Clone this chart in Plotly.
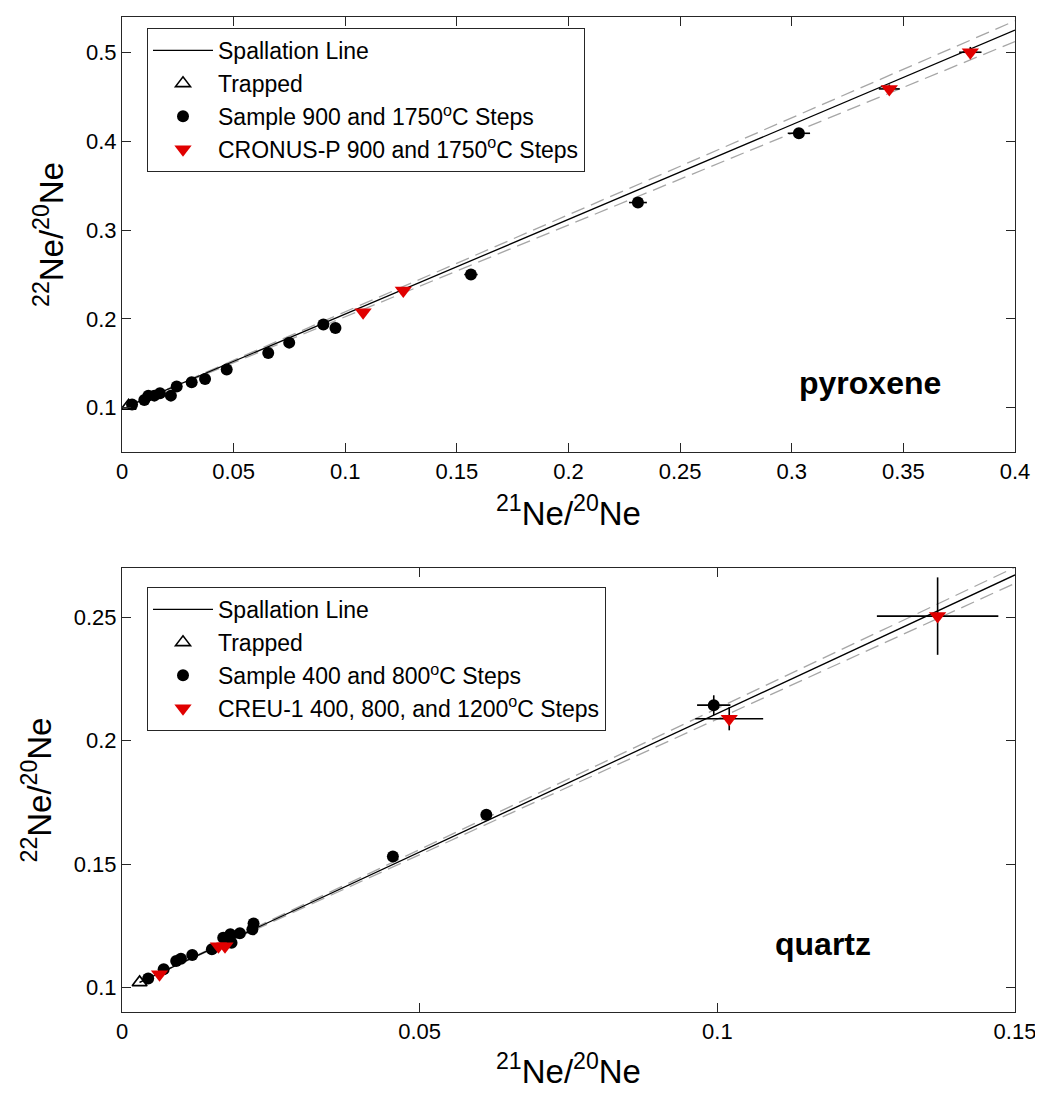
import plotly.graph_objects as go

# ---------------- data: pyroxene (top) ----------------
pyx_trapped_x = [0.00296]
pyx_trapped_y = [0.102]

pyx_sample_x = [0.0045, 0.0100, 0.0118, 0.0145, 0.0170, 0.0219, 0.0245, 0.0312, 0.0372, 0.0469,
                0.0655, 0.0749, 0.0902, 0.0956, 0.1563, 0.2311, 0.3032]
pyx_sample_y = [0.1034, 0.1087, 0.1135, 0.1135, 0.1161, 0.1135, 0.1237, 0.1285, 0.1323, 0.1430,
                0.1616, 0.1732, 0.1935, 0.1898, 0.2499, 0.3310, 0.4090]
pyx_sample_xerr = [0, 0, 0, 0, 0, 0, 0, 0, 0, 0, 0.001, 0.001, 0.001, 0.001, 0.003, 0.004, 0.005]
pyx_sample_yerr = [0] * 17

pyx_std_x = [0.1080, 0.1260, 0.3437, 0.3800]
pyx_std_y = [0.2074, 0.2318, 0.4590, 0.5003]
pyx_std_xerr = [0.001, 0.001, 0.0047, 0.0050]
pyx_std_yerr = [0, 0, 0.005, 0.006]

pyx_line_x = [0.00296, 0.40]
pyx_line_y = [0.102, 0.5252]
pyx_upper_y = [0.102, 0.5357]
pyx_lower_y = [0.102, 0.5124]

# ---------------- data: quartz (bottom) ----------------
qtz_trapped_x = [0.00296]
qtz_trapped_y = [0.102]

qtz_sample_x = [0.0044, 0.0070, 0.0091, 0.0099, 0.0118, 0.0151, 0.0170, 0.0182, 0.0184, 0.0198,
                0.0219, 0.0221, 0.0455, 0.0612, 0.0994]
qtz_sample_y = [0.1036, 0.1073, 0.1107, 0.1116, 0.1131, 0.1154, 0.1201, 0.1215, 0.1181, 0.1219,
                0.1235, 0.1259, 0.1530, 0.1700, 0.2144]
qtz_sample_xerr = [0, 0, 0, 0, 0, 0, 0, 0, 0, 0, 0, 0, 0, 0, 0.0028]
qtz_sample_yerr = [0, 0, 0, 0, 0, 0, 0, 0, 0, 0, 0, 0, 0, 0, 0.004]

qtz_std_x = [0.0063, 0.0162, 0.0173, 0.1020, 0.1370]
qtz_std_y = [0.1053, 0.1167, 0.1167, 0.2089, 0.2505]
qtz_std_xerr = [0, 0, 0, 0.0057, 0.0102]
qtz_std_yerr = [0, 0, 0, 0.0047, 0.0157]

qtz_line_x = [0.00296, 0.15]
qtz_line_y = [0.102, 0.2672]
qtz_upper_y = [0.102, 0.2703]
qtz_lower_y = [0.102, 0.2638]

FONT = "Liberation Sans, Arial, sans-serif"
AX = "#262626"
OFF = 8                 # page body margin
W, H = 1043 - OFF, 1099 - 2 * OFF

fig = go.Figure()


def add_panel(xa, ya, leg, lx, ly, uy, lowy, tx, ty, sx, sy, sxe, sye, stx, sty, stxe, stye,
              sample_name, std_name):
    fig.add_trace(go.Scatter(x=lx, y=uy, mode="lines", xaxis=xa, yaxis=ya, showlegend=False,
                             line=dict(color="#a6a6a6", width=1.3, dash="14px,7px"), hoverinfo="skip"))
    fig.add_trace(go.Scatter(x=lx, y=lowy, mode="lines", xaxis=xa, yaxis=ya, showlegend=False,
                             line=dict(color="#a6a6a6", width=1.3, dash="14px,7px"), hoverinfo="skip"))
    fig.add_trace(go.Scatter(x=lx, y=ly, mode="lines", xaxis=xa, yaxis=ya, legend=leg,
                             name="Spallation Line", line=dict(color="black", width=1.3)))
    fig.add_trace(go.Scatter(x=tx, y=ty, mode="markers", xaxis=xa, yaxis=ya, legend=leg,
                             name="Trapped",
                             marker=dict(symbol="triangle-up-open", size=13, color="black",
                                         line=dict(width=1.6, color="black"))))
    fig.add_trace(go.Scatter(x=sx, y=sy, mode="markers", xaxis=xa, yaxis=ya, legend=leg,
                             name=sample_name,
                             error_x=dict(type="data", array=sxe, color="black", thickness=1.6, width=0),
                             error_y=dict(type="data", array=sye, color="black", thickness=1.6, width=0),
                             marker=dict(symbol="circle", size=12, color="black")))
    fig.add_trace(go.Scatter(x=stx, y=sty, mode="markers", xaxis=xa, yaxis=ya, legend=leg,
                             name=std_name,
                             error_x=dict(type="data", array=stxe, color="black", thickness=1.6, width=0),
                             error_y=dict(type="data", array=stye, color="black", thickness=1.6, width=0),
                             marker=dict(symbol="triangle-down", size=15, color="#e00000",
                                         line=dict(width=0))))


add_panel("x", "y", "legend", pyx_line_x, pyx_line_y, pyx_upper_y, pyx_lower_y,
          pyx_trapped_x, pyx_trapped_y, pyx_sample_x, pyx_sample_y, pyx_sample_xerr, pyx_sample_yerr,
          pyx_std_x, pyx_std_y, pyx_std_xerr, pyx_std_yerr,
          "Sample 900 and 1750<sup>o</sup>C Steps", "CRONUS-P 900 and 1750<sup>o</sup>C Steps")
add_panel("x2", "y2", "legend2", qtz_line_x, qtz_line_y, qtz_upper_y, qtz_lower_y,
          qtz_trapped_x, qtz_trapped_y, qtz_sample_x, qtz_sample_y, qtz_sample_xerr, qtz_sample_yerr,
          qtz_std_x, qtz_std_y, qtz_std_xerr, qtz_std_yerr,
          "Sample 400 and 800<sup>o</sup>C Steps", "CREU-1 400, 800, and 1200<sup>o</sup>C Steps")

axis_common = dict(showgrid=False, zeroline=False, showline=True, linecolor=AX, linewidth=1,
                   mirror="ticks", ticks="inside", ticklen=9, tickcolor=AX, tickwidth=1,
                   automargin=False,
                   tickfont=dict(family=FONT, size=22, color="black"))

xtitle = "<sup>21</sup>Ne/<sup>20</sup>Ne"
ytitle = "<sup>22</sup>Ne/<sup>20</sup>Ne"
TFONT = dict(family=FONT, size=33, color="black")


def px_x(p):
    return (p - OFF) / W


def px_y(p):
    return 1 - (p - OFF) / H


fig.update_layout(
    width=W, height=H,
    margin=dict(l=0, r=0, t=0, b=0, autoexpand=False),
    paper_bgcolor="white", plot_bgcolor="white",
    font=dict(family=FONT, color="black"),
    xaxis=dict(domain=[px_x(122), px_x(1015)], anchor="y", range=[0, 0.4],
               tickvals=[0, 0.05, 0.1, 0.15, 0.2, 0.25, 0.3, 0.35, 0.4],
               ticktext=["0", "0.05", "0.1", "0.15", "0.2", "0.25", "0.3", "0.35", "0.4"],
               title=dict(text=xtitle, font=TFONT, standoff=18), **axis_common),
    yaxis=dict(domain=[px_y(452), px_y(17)], anchor="x", range=[0.05, 0.54],
               tickvals=[0.1, 0.2, 0.3, 0.4, 0.5], ticktext=["0.1", "0.2", "0.3", "0.4", "0.5"],
               title=dict(text=ytitle, font=TFONT, standoff=12), **axis_common),
    xaxis2=dict(domain=[px_x(122), px_x(1015)], anchor="y2", range=[0, 0.15],
                tickvals=[0, 0.05, 0.1, 0.15], ticktext=["0", "0.05", "0.1", "0.15"],
                title=dict(text=xtitle, font=TFONT, standoff=16), **axis_common),
    yaxis2=dict(domain=[px_y(1012), px_y(568)], anchor="x2", range=[0.09, 0.27],
                tickvals=[0.1, 0.15, 0.2, 0.25], ticktext=["0.1", "0.15", "0.2", "0.25"],
                title=dict(text=ytitle, font=TFONT, standoff=12), **axis_common),
    legend=dict(x=px_x(147), y=px_y(28), xanchor="left", yanchor="top", bgcolor="white",
                bordercolor=AX, borderwidth=1, font=dict(family=FONT, size=23),
                itemwidth=60, tracegroupgap=0),
    legend2=dict(x=px_x(147), y=px_y(587), xanchor="left", yanchor="top", bgcolor="white",
                 bordercolor=AX, borderwidth=1, font=dict(family=FONT, size=23),
                 itemwidth=60, tracegroupgap=0),
    annotations=[
        dict(text="<b>pyroxene</b>", x=0.335, y=0.128, xref="x", yref="y", showarrow=False,
             font=dict(family=FONT, size=32, color="black")),
        dict(text="<b>quartz</b>", x=0.1177, y=0.1174, xref="x2", yref="y2", showarrow=False,
             font=dict(family=FONT, size=32, color="black")),
    ],
)

fig.write_html("out.html")
